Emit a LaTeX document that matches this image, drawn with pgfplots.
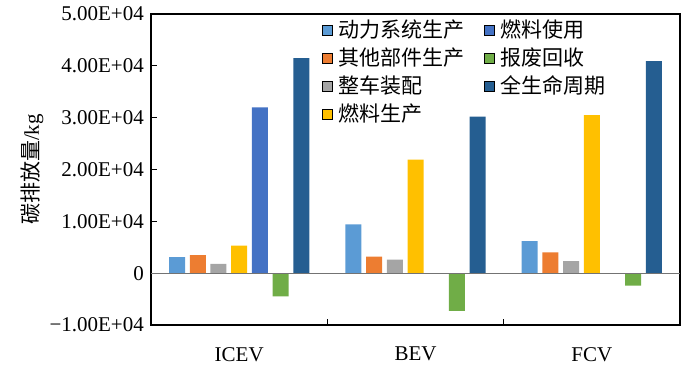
\documentclass[border=0pt]{standalone}
\usepackage{pgfplots}
\pgfplotsset{compat=1.18}
\usepackage{fontspec}
\setmainfont{Liberation Serif}
\newfontfamily\cjk{Noto Sans CJK SC}
\definecolor{c1}{HTML}{5B9BD5}
\definecolor{c2}{HTML}{ED7D31}
\definecolor{c3}{HTML}{A5A5A5}
\definecolor{c4}{HTML}{FFC000}
\definecolor{c5}{HTML}{4472C4}
\definecolor{c6}{HTML}{70AD47}
\definecolor{c7}{HTML}{255E91}
\begin{document}
\fontsize{21bp}{25bp}\selectfont
\begin{tikzpicture}
\begin{axis}[
  scale only axis,
  width=529bp, height=311bp,
  xmin=-0.5, xmax=2.5,
  ymin=-10000, ymax=50000,
  scaled y ticks=false,
  ybar, bar width=16bp,
  axis line style={black, line width=1.1pt},
  tick align=inside,
  xtick pos=bottom, ytick pos=left,
  xtick={0.5,1.5}, xticklabels={},
  major tick length=6bp,
  tick style={black, line width=0.8pt},
  extra x ticks={0,1,2},
  extra x tick labels={ICEV,BEV,FCV},
  extra x tick style={major tick length=0pt, tick label style={yshift=-15bp}},
  ytick={-10000,0,10000,20000,30000,40000,50000},
  yticklabels={−1.00E+04,0,1.00E+04,2.00E+04,3.00E+04,4.00E+04,5.00E+04},
  tick label style={font=\fontsize{21bp}{25bp}\selectfont},
  ylabel={{\cjk 碳排放量}/kg},
  ylabel style={font=\fontsize{21bp}{25bp}\selectfont, yshift=-8bp},
  legend columns=2,
  legend cell align=left,
  legend image code/.code={\fill[#1] (0bp,-5bp) rectangle (10bp,5bp);},
  legend style={at={(0.318,0.995)}, anchor=north west, draw=none, fill=none,
    font=\fontsize{21bp}{25bp}\selectfont\cjk, row sep=3bp,
    nodes={inner xsep=6bp},
    /tikz/column 2/.style={column sep=13bp}},
]
\addplot[fill=c1, draw=none, forget plot, bar shift=-62.1bp] coordinates {(0,3100) (1,9400) (2,6200)};
\addplot[fill=c2, draw=none, forget plot, bar shift=-41.4bp] coordinates {(0,3500) (1,3200) (2,4000)};
\addplot[fill=c3, draw=none, forget plot, bar shift=-20.7bp] coordinates {(0,1800) (1,2600) (2,2300)};
\addplot[fill=c4, draw=none, forget plot, bar shift=0bp] coordinates {(0,5300) (1,21900) (2,30500)};
\addplot[fill=c5, draw=none, forget plot, bar shift=20.7bp] coordinates {(0,32000) (1,0) (2,0)};
\addplot[fill=c6, draw=none, forget plot, bar shift=41.4bp] coordinates {(0,-4500) (1,-7300) (2,-2400)};
\addplot[fill=c7, draw=none, forget plot, bar shift=62.1bp] coordinates {(0,41500) (1,30200) (2,40900)};
\addplot[sharp plot, black!55, line width=1.1pt, forget plot] coordinates {(-0.5,0) (2.5,0)};
\addlegendimage{fill=c1}\addlegendentry{动力系统生产}
\addlegendimage{fill=c5}\addlegendentry{燃料使用}
\addlegendimage{fill=c2}\addlegendentry{其他部件生产}
\addlegendimage{fill=c6}\addlegendentry{报废回收}
\addlegendimage{fill=c3}\addlegendentry{整车装配}
\addlegendimage{fill=c7}\addlegendentry{全生命周期}
\addlegendimage{fill=c4}\addlegendentry{燃料生产}
\end{axis}
\pgfresetboundingbox
\path ([shift={(-151bp,-51bp)}]current axis.south west) rectangle ([shift={(20bp,14bp)}]current axis.north east);
\end{tikzpicture}
\end{document}
